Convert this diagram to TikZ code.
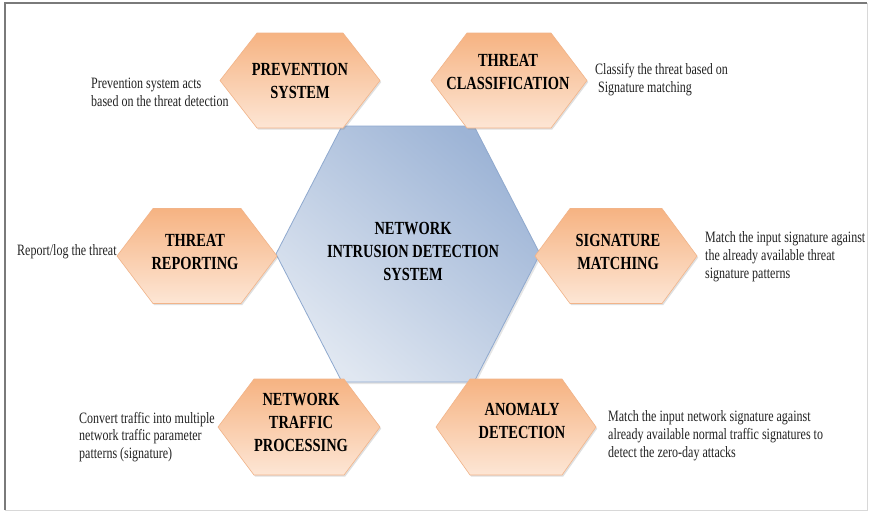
\documentclass[tikz,border=0pt]{standalone}
\usepackage{fontspec}
\setmainfont{Liberation Serif}
\newfontfamily\labfont{Liberation Serif}[FakeStretch=0.78]
\newfontfamily\descfont{Liberation Serif}[FakeStretch=0.76]
\usetikzlibrary{shadows}
\definecolor{orT}{HTML}{F6B382}
\definecolor{orM}{HTML}{FAD5BA}
\definecolor{orB}{HTML}{FDE6D5}
\definecolor{orE}{HTML}{F2B489}
\definecolor{blD}{HTML}{9DB4D6}
\definecolor{blL}{HTML}{E0E7F1}
\definecolor{blE}{HTML}{8FA9CF}
\definecolor{txt}{HTML}{222222}
\definecolor{frameD}{HTML}{7A7A7A}
\definecolor{frameL}{HTML}{D8D8D8}
\tikzset{
  hexfill/.style={draw=orE, line width=0.6pt, top color=orT, middle color=orM, bottom color=orB,
    drop shadow={opacity=0.25, shadow xshift=1.2pt, shadow yshift=-1.6pt}},
  bigfill/.style={draw=blE, line width=0.8pt, shading=axis, top color=blD, bottom color=blL, shading angle=-40,
    drop shadow={opacity=0.2, shadow xshift=1.5pt, shadow yshift=-2pt}},
  hexlabel/.style={inner sep=0pt, align=center, text=black, font=\labfont\bfseries\fontsize{18.5}{23}\selectfont},
  desc/.style={inner sep=0pt, align=left, anchor=west, text=txt, font=\descfont\fontsize{15.8}{17.8}\selectfont},
}
\newcommand\myhex[6]{% style, cx, cy, half width, half top, half height
  \path[#1] (#2-#4,#3) -- (#2-#5,#3-#6) -- (#2+#5,#3-#6) -- (#2+#4,#3) -- (#2+#5,#3+#6) -- (#2-#5,#3+#6) -- cycle;}
\begin{document}
\begin{tikzpicture}[x=1pt,y=-1pt]
\useasboundingbox (0,0) rectangle (869,512);
\fill[white] (0,0) rectangle (869,512);
% frame
\draw[frameL, line width=1pt] (867,3) -- (867,510) -- (5,510);
\draw[frameD, line width=1.6pt] (5,510) -- (5,3) -- (867,3);
% central hexagon
\myhex{bigfill}{408}{254}{132}{66}{128}
% small hexagons
\myhex{hexfill}{300}{80.5}{80}{43}{47.5}
\myhex{hexfill}{509}{80.5}{78}{42}{47.5}
\myhex{hexfill}{197}{256}{80}{44}{47.5}
\myhex{hexfill}{616}{256}{81}{46}{47.5}
\myhex{hexfill}{299}{427}{81}{45}{48}
\myhex{hexfill}{516}{427}{80}{46}{48}
% labels
\node[hexlabel] (nids) at (413,251) {NETWORK\\INTRUSION DETECTION\\SYSTEM};
\node[hexlabel] (prev) at (300,81.4) {PREVENTION\\SYSTEM};
\node[hexlabel] (tcls) at (508,72) {THREAT\\CLASSIFICATION};
\node[hexlabel] (trep) at (195,252) {THREAT\\REPORTING};
\node[hexlabel] (sigm) at (618,252) {SIGNATURE\\MATCHING};
\node[hexlabel] (ntp) at (301,422) {NETWORK\\TRAFFIC\\PROCESSING};
\node[hexlabel] (anom) at (522,421) {ANOMALY\\DETECTION};
% descriptions
\node[desc] (dprev) at (91,92) {Prevention system acts\\based on the threat detection};
\node[desc] (dtcls) at (595,80) {Classify the threat based on\\\ Signature matching};
\node[desc] (dtrep) at (17,252) {Report/log the threat};
\node[desc] (dsigm) at (705,257) {Match the input signature against\\the already available threat\\signature patterns};
\node[desc] (dntp) at (79,437) {Convert traffic into multiple\\network traffic parameter\\patterns (signature)};
\node[desc] (danom) at (608,436) {Match the input network signature against\\already available normal traffic signatures to\\detect the zero-day attacks};
\end{tikzpicture}
\end{document}
